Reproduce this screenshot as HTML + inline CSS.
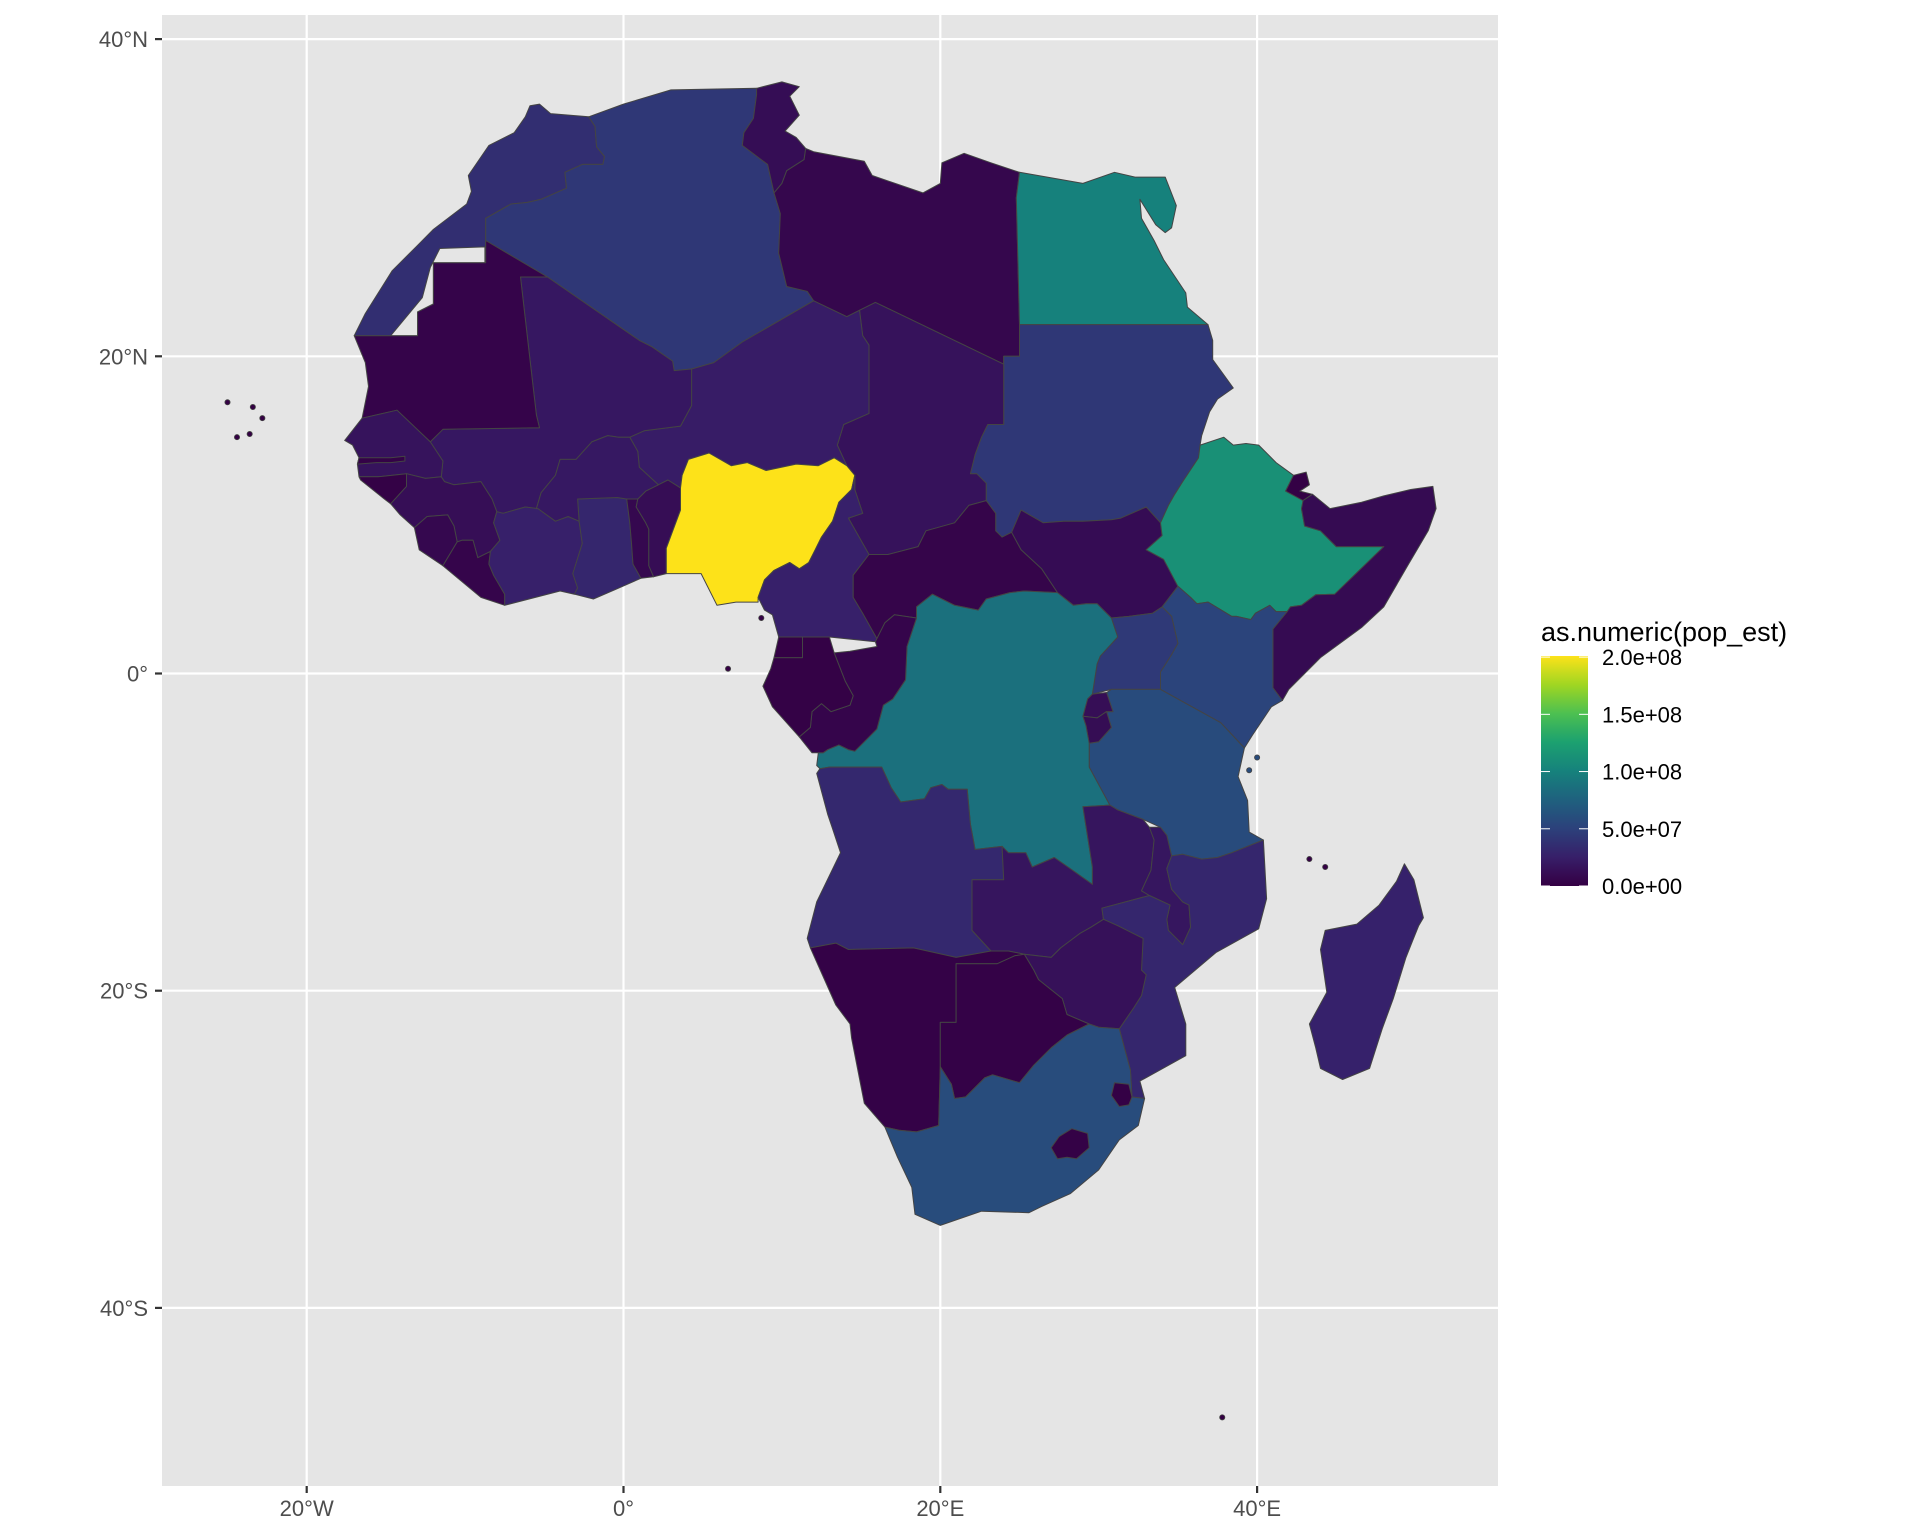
<!DOCTYPE html>
<html><head><meta charset="utf-8"><style>
html,body{margin:0;padding:0;background:#fff;}
svg{display:block;font-family:"Liberation Sans",Arial,sans-serif;}
</style></head><body>
<svg id="chart" width="1920" height="1536" viewBox="0 0 1920 1536" xmlns="http://www.w3.org/2000/svg">
<rect x="0" y="0" width="1920" height="1536" fill="#ffffff"/>
<defs><clipPath id="pclip"><rect x="162" y="15" width="1336" height="1471"/></clipPath>
<linearGradient id="vir" x1="0" y1="1" x2="0" y2="0"></linearGradient></defs>
<rect x="162" y="15" width="1336" height="1471" fill="#e5e5e5"/>
<g id="grid"></g>
<g id="countries" clip-path="url(#pclip)"></g>
<g id="axes"></g>
<g id="legend"></g>
</svg>
<script>
const NS="http://www.w3.org/2000/svg";
const lonTicks=[-20,0,20,40];
const lonLabels=["20°W","0°","20°E","40°E"];
const latTicks=[40,20,0,-20,-40];
const latLabels=["40°N","20°N","0°","20°S","40°S"];
const legendBreaks=[0,5e7,1e8,1.5e8,2e8];
const legendLabels=["0.0e+00","5.0e+07","1.0e+08","1.5e+08","2.0e+08"];
const countryNames=["Algeria","Tunisia","Libya","Egypt","Sudan","Chad","Niger","Mali","Morocco","Mauritania","Senegal","Gambia","Guinea-Bissau","Guinea","Sierra Leone","Liberia","Cote d'Ivoire","Ghana","Togo","Benin","Burkina Faso","Nigeria","Cameroon","Central African Rep.","South Sudan","Ethiopia","Djibouti","Somalia","Kenya","Uganda","Tanzania","Rwanda","Burundi","DR Congo","Congo","Gabon","Eq. Guinea","Angola","Zambia","Malawi","Mozambique","Zimbabwe","Namibia","Botswana","South Africa","Lesotho","eSwatini","Madagascar"];
const popEst=[43.05e6,11.69e6,6.78e6,100.4e6,42.81e6,15.95e6,23.31e6,19.66e6,36.47e6,4.53e6,16.3e6,2.35e6,1.92e6,12.77e6,7.81e6,4.94e6,25.72e6,30.42e6,8.08e6,11.8e6,20.32e6,200.96e6,25.88e6,4.75e6,11.06e6,112.08e6,0.97e6,10.19e6,52.57e6,44.27e6,58.01e6,12.63e6,11.53e6,86.79e6,5.38e6,2.17e6,1.36e6,31.83e6,17.86e6,18.63e6,30.37e6,14.65e6,2.49e6,2.3e6,58.56e6,2.13e6,1.15e6,26.97e6];
const shapes={
"Algeria":[[-8.7,27.3],[-8.7,28.7],[-7.1,29.6],[-6.1,29.7],[-5.2,29.9],[-3.6,30.6],[-3.7,31.6],[-2.6,32.1],[-1.3,32.1],[-1.2,32.6],[-1.7,33.2],[-1.8,34.5],[-2.2,35.1],[0,35.9],[3,36.8],[8.4,36.9],[8.4,36.5],[8.2,35.0],[7.6,34.1],[7.5,33.3],[9.1,32.1],[9.5,30.3],[9.9,29.0],[9.8,26.5],[10.3,24.4],[11.6,24.1],[12.0,23.5],[7.5,20.9],[5.7,19.6],[4.3,19.2],[3.2,19.1],[3.1,19.7],[1.8,20.6],[1.0,21.0],[-4.8,25.0]],
"Tunisia":[[8.4,36.9],[10,37.3],[11.1,37.0],[10.5,36.4],[11.1,35.2],[10.2,34.2],[10.9,33.8],[11.5,33.1],[11.4,32.4],[10.3,31.7],[10.0,30.9],[9.5,30.3],[9.1,32.1],[7.5,33.3],[7.6,34.1],[8.2,35.0],[8.4,36.5]],
"Libya":[[11.5,33.1],[12,32.9],[15.2,32.3],[15.7,31.4],[18.9,30.3],[20.0,30.9],[20.1,32.2],[21.5,32.8],[23.2,32.2],[25.0,31.6],[24.8,30.0],[25.0,22.0],[25.0,20.0],[24.0,20.0],[24.0,19.5],[15.9,23.4],[14.9,22.9],[14.1,22.5],[12.0,23.5],[11.6,24.1],[10.3,24.4],[9.8,26.5],[9.9,29.0],[9.5,30.3],[10.0,30.9],[10.3,31.7],[11.4,32.4]],
"Egypt":[[25.0,31.6],[29,30.9],[31,31.6],[32.3,31.3],[34.2,31.3],[34.9,29.5],[34.6,28.1],[34.2,27.8],[33.6,28.3],[32.6,29.9],[32.7,28.7],[33.5,27.3],[34.1,26.1],[35.5,24.0],[35.6,23.1],[36.9,22.0],[25.0,22.0],[24.8,30.0]],
"Sudan":[[25.0,22.0],[36.9,22.0],[37.2,21.0],[37.2,19.8],[38.5,18.0],[37.5,17.3],[37.0,16.5],[36.5,15.0],[36.4,14.4],[36.3,13.6],[35.3,12.1],[34.8,11.3],[34.4,10.6],[33.9,9.5],[33.0,10.5],[31.4,9.8],[30.8,9.7],[29.0,9.6],[27.8,9.6],[26.5,9.5],[25.1,10.3],[24.5,8.9],[23.9,8.6],[23.5,9.0],[23.5,10.1],[22.9,10.9],[22.9,12.0],[22.3,12.6],[21.9,12.6],[22.2,13.8],[22.6,14.9],[23.0,15.7],[24.0,15.7],[24.0,19.5],[24.0,20.0],[25.0,20.0]],
"Chad":[[24.0,19.5],[15.9,23.4],[14.9,22.9],[15.1,21.3],[15.5,20.7],[15.5,16.4],[13.9,15.7],[13.5,14.4],[14.1,13.1],[14.6,12.5],[14.6,11.6],[15.1,10.1],[14.2,9.8],[15.5,7.5],[16.7,7.5],[18.6,8.0],[19.1,9.0],[20.9,9.5],[21.8,10.6],[22.9,10.9],[22.9,12.0],[22.3,12.6],[21.9,12.6],[22.2,13.8],[22.6,14.9],[23.0,15.7],[24.0,15.7]],
"Niger":[[12.0,23.5],[14.1,22.5],[14.9,22.9],[15.1,21.3],[15.5,20.7],[15.5,16.4],[13.9,15.7],[13.5,14.4],[14.1,13.1],[13.3,13.6],[12.3,13.1],[10.9,13.2],[9.0,12.8],[7.8,13.3],[6.8,13.1],[5.4,13.9],[4.1,13.5],[3.7,12.5],[3.6,11.7],[2.8,12.2],[2.2,11.9],[1.0,13.0],[0.9,14.0],[0.4,14.9],[1.3,15.3],[3.6,15.6],[4.3,16.9],[4.3,19.2],[5.7,19.6],[7.5,20.9]],
"Mali":[[-4.8,25.0],[1.0,21.0],[1.8,20.6],[3.1,19.7],[3.2,19.1],[4.3,19.2],[4.3,16.9],[3.6,15.6],[1.3,15.3],[0.4,14.9],[-0.3,14.9],[-1.0,15.0],[-2.0,14.6],[-3.0,13.5],[-4.0,13.5],[-4.3,12.5],[-5.2,11.4],[-5.5,10.4],[-6.2,10.5],[-7.6,10.1],[-8.0,10.2],[-8.3,11.0],[-9.0,12.1],[-10.7,11.9],[-11.3,12.1],[-11.5,12.4],[-11.4,13.4],[-12.2,14.6],[-11.4,15.4],[-5.3,15.5],[-5.5,16.3],[-6.0,20.6],[-6.5,25.0]],
"Morocco":[[-17.0,21.3],[-16.3,22.7],[-14.6,25.4],[-13.0,27.0],[-12,28.0],[-9.9,29.6],[-9.6,30.4],[-9.8,31.4],[-8.5,33.3],[-6.9,34.1],[-6.2,35.1],[-5.9,35.8],[-5.3,35.9],[-4.6,35.3],[-2.2,35.1],[-1.8,34.5],[-1.7,33.2],[-1.2,32.6],[-1.3,32.1],[-2.6,32.1],[-3.7,31.6],[-3.6,30.6],[-5.2,29.9],[-6.1,29.7],[-7.1,29.6],[-8.7,28.7],[-8.7,25.9],[-13.0,21.3]],
"Mauritania":[[-8.7,27.3],[-4.8,25.0],[-6.5,25.0],[-6.0,20.6],[-5.5,16.3],[-5.3,15.5],[-11.4,15.4],[-12.2,14.6],[-14.3,16.6],[-16.5,16.1],[-16.1,18.1],[-16.3,19.6],[-17.0,21.3],[-13.0,21.3],[-13.0,22.8],[-12,23.3],[-12,25.9],[-8.7,25.9]],
"Senegal":[[-16.5,16.1],[-14.3,16.6],[-12.2,14.6],[-11.4,13.4],[-11.5,12.4],[-12.5,12.3],[-13.7,12.6],[-15.5,12.4],[-16.7,12.4],[-16.8,13.2],[-16.7,13.6],[-17.1,14.4],[-17.6,14.7]],
"Gambia":[[-16.8,13.2],[-15.6,13.3],[-14.7,13.3],[-13.8,13.4],[-13.8,13.7],[-14.7,13.6],[-15.6,13.6],[-16.7,13.6]],
"Guinea-Bissau":[[-16.7,12.4],[-15.5,12.4],[-13.7,12.6],[-13.7,11.8],[-14.7,10.7],[-15.1,11.0],[-16.6,12.2]],
"Guinea":[[-13.7,12.6],[-12.5,12.3],[-11.5,12.4],[-11.3,12.1],[-10.7,11.9],[-9.0,12.1],[-8.3,11.0],[-8.0,10.2],[-8.2,9.5],[-7.8,8.4],[-8.4,7.7],[-9.2,7.3],[-9.5,8.4],[-10.2,8.4],[-10.5,8.3],[-10.7,9.3],[-11.1,10.0],[-12.4,9.9],[-13.2,9.2],[-14.1,10.0],[-14.7,10.7],[-13.7,11.8]],
"Sierra Leone":[[-13.2,9.2],[-12.4,9.9],[-11.1,10.0],[-10.7,9.3],[-10.5,8.3],[-11.4,6.8],[-12.9,7.8]],
"Liberia":[[-11.4,6.8],[-10.5,8.3],[-10.2,8.4],[-9.5,8.4],[-9.2,7.3],[-8.4,7.7],[-8.5,6.9],[-8.2,6.2],[-7.5,5.0],[-7.5,4.3],[-9.0,4.8]],
"Cote d'Ivoire":[[-7.5,4.3],[-4.0,5.2],[-3.1,5.0],[-2.9,5.4],[-3.2,6.3],[-2.6,8.2],[-2.8,9.6],[-3.5,9.9],[-4.3,9.6],[-5.4,10.4],[-6.2,10.5],[-7.6,10.1],[-8.0,10.2],[-8.2,9.5],[-7.8,8.4],[-8.4,7.7],[-8.5,6.9],[-8.2,6.2],[-7.5,5.0]],
"Ghana":[[-3.1,5.0],[-1.9,4.7],[-0.5,5.3],[1.1,6.0],[0.6,6.9],[0.5,8.3],[0.4,9.5],[0.2,11.0],[-0.4,11.1],[-2.9,11.0],[-2.8,9.6],[-2.6,8.2],[-3.2,6.3],[-2.9,5.4]],
"Togo":[[1.1,6.0],[1.9,6.1],[1.6,6.8],[1.6,9.1],[1.4,9.5],[0.8,10.5],[0.9,11.0],[0.2,11.0],[0.4,9.5],[0.5,8.3],[0.6,6.9]],
"Benin":[[1.9,6.1],[2.7,6.3],[2.7,7.9],[3.6,10.3],[3.6,11.7],[2.8,12.2],[2.2,11.9],[1.4,11.5],[0.9,11.0],[0.8,10.5],[1.4,9.5],[1.6,9.1],[1.6,6.8]],
"Burkina Faso":[[-5.5,10.4],[-5.2,11.4],[-4.3,12.5],[-4.0,13.5],[-3.0,13.5],[-2.0,14.6],[-1.0,15.0],[-0.3,14.9],[0.4,14.9],[0.9,14.0],[1.0,13.0],[2.2,11.9],[1.4,11.5],[0.9,11.0],[0.2,11.0],[-0.4,11.1],[-2.9,11.0],[-2.8,9.6],[-3.5,9.9],[-4.3,9.6],[-5.4,10.4]],
"Nigeria":[[2.7,6.3],[3.6,6.3],[4.9,6.3],[5.9,4.3],[7.1,4.5],[8.5,4.5],[8.5,4.8],[8.9,5.9],[9.5,6.5],[10.5,7.0],[11.1,6.6],[11.7,7.0],[12.1,7.8],[12.5,8.6],[13.2,9.6],[13.6,10.8],[14.4,11.6],[14.6,12.5],[14.1,13.1],[13.3,13.6],[12.3,13.1],[10.9,13.2],[9.0,12.8],[7.8,13.3],[6.8,13.1],[5.4,13.9],[4.1,13.5],[3.7,12.5],[3.6,11.7],[3.6,10.3],[2.7,7.9]],
"Cameroon":[[8.5,4.8],[8.9,4.0],[9.4,3.7],[9.8,2.3],[11.3,2.3],[13.0,2.3],[15.9,2.0],[16.0,2.2],[15.1,3.8],[14.5,4.8],[14.5,6.2],[15.5,7.5],[14.2,9.8],[15.1,10.1],[14.6,11.6],[14.6,12.5],[14.4,11.6],[13.6,10.8],[13.2,9.6],[12.5,8.6],[12.1,7.8],[11.7,7.0],[11.1,6.6],[10.5,7.0],[9.5,6.5],[8.9,5.9]],
"Central African Rep.":[[15.5,7.5],[16.7,7.5],[18.6,8.0],[19.1,9.0],[20.9,9.5],[21.8,10.6],[22.9,10.9],[23.5,10.1],[23.5,9.0],[23.9,8.6],[24.5,8.9],[25.1,7.8],[26.4,6.6],[27.4,5.1],[25.3,5.2],[24.4,5.1],[22.9,4.7],[22.4,4.0],[20.9,4.3],[19.5,5.0],[18.5,4.2],[18.5,3.5],[17.1,3.7],[16.5,3.2],[16.0,2.2],[15.1,3.8],[14.5,4.8],[14.5,6.2]],
"South Sudan":[[24.5,8.9],[25.1,10.3],[26.5,9.5],[27.8,9.6],[29.0,9.6],[30.8,9.7],[31.4,9.8],[33.0,10.5],[33.9,9.5],[34.0,8.7],[33.0,7.8],[34.1,7.2],[35.0,5.5],[34.0,4.2],[33.4,3.8],[31.9,3.6],[30.8,3.5],[29.9,4.4],[29.2,4.4],[28.4,4.3],[27.4,5.1],[26.4,6.6],[25.1,7.8]],
"Ethiopia":[[33.9,9.5],[34.4,10.6],[34.8,11.3],[35.3,12.1],[36.3,13.6],[36.4,14.4],[37.9,14.9],[38.5,14.4],[39.3,14.5],[40.1,14.4],[41.2,13.3],[42.3,12.5],[41.8,11.5],[43.0,10.9],[42.8,10.4],[43.0,9.3],[44.0,9.0],[45.0,8.0],[48.0,8.0],[44.9,5.0],[43.7,4.96],[42.8,4.3],[42.1,4.2],[41.9,3.9],[41.2,3.9],[40.8,4.3],[39.9,3.8],[39.6,3.4],[38.7,3.6],[38.4,3.6],[36.9,4.5],[36.2,4.4],[35.8,4.8],[35.0,5.5],[34.1,7.2],[33.0,7.8],[34.0,8.7]],
"Djibouti":[[42.3,12.5],[43.1,12.7],[43.3,11.9],[42.7,11.5],[43.5,11.3],[42.9,10.9],[41.8,11.5]],
"Somalia":[[43.5,11.3],[44.6,10.4],[46.6,10.8],[48.0,11.2],[49.7,11.6],[51.1,11.8],[51.3,10.4],[50.8,9.0],[49.5,6.8],[48.0,4.2],[46.6,2.9],[44.0,1.0],[42.0,-1.0],[41.6,-1.7],[41.0,-0.9],[41.0,2.8],[41.9,3.9],[42.1,4.2],[42.8,4.3],[43.7,4.96],[44.9,5.0],[48.0,8.0],[45.0,8.0],[44.0,9.0],[43.0,9.3],[42.8,10.4],[42.9,10.9]],
"Kenya":[[41.6,-1.7],[40.9,-2.1],[39.7,-3.9],[39.2,-4.7],[37.7,-3.1],[33.9,-1.0],[33.9,0.1],[34.1,0.4],[34.6,1.2],[35.0,1.9],[34.6,3.6],[34.0,4.2],[35.0,5.5],[35.8,4.8],[36.2,4.4],[36.9,4.5],[38.4,3.6],[38.7,3.6],[39.6,3.4],[39.9,3.8],[40.8,4.3],[41.2,3.9],[41.9,3.9],[41.0,2.8],[41.0,-0.9]],
"Uganda":[[33.9,-1.0],[31.8,-1.0],[30.8,-1.0],[29.6,-1.3],[29.9,0.6],[30.1,1.1],[31.2,2.3],[30.8,3.5],[31.9,3.6],[33.4,3.8],[34.0,4.2],[34.6,3.6],[35.0,1.9],[34.6,1.2],[34.1,0.4],[33.9,0.1]],
"Tanzania":[[30.8,-1.0],[31.8,-1.0],[33.9,-1.0],[37.7,-3.1],[39.2,-4.7],[38.8,-6.5],[39.4,-8.0],[39.5,-10.0],[40.4,-10.5],[38.4,-11.3],[37.5,-11.6],[36.5,-11.7],[35.3,-11.4],[34.6,-11.5],[34.3,-10.2],[33.9,-9.7],[32.8,-9.2],[31.2,-8.6],[30.7,-8.3],[29.4,-5.9],[29.4,-4.4],[30.0,-4.3],[30.8,-3.4],[30.5,-2.4],[30.9,-2.4],[30.5,-1.2]],
"Rwanda":[[29.6,-1.3],[30.5,-1.2],[30.9,-2.4],[30.5,-2.4],[29.9,-2.8],[29.0,-2.7],[29.3,-1.6]],
"Burundi":[[29.0,-2.7],[29.9,-2.8],[30.5,-2.4],[30.8,-3.4],[30.0,-4.3],[29.4,-4.4],[29.2,-3.3]],
"DR Congo":[[12.2,-5.8],[12.4,-6.0],[13.0,-5.9],[16.3,-5.9],[16.9,-7.2],[17.5,-8.1],[19.0,-7.9],[19.4,-7.2],[20.1,-7.0],[20.5,-7.3],[21.7,-7.3],[21.9,-9.5],[22.2,-11.1],[23.9,-10.9],[24.3,-11.3],[25.4,-11.3],[25.8,-12.2],[27.2,-11.6],[28.2,-12.3],[29.6,-13.3],[29.6,-12.2],[29.0,-8.4],[30.7,-8.3],[29.4,-5.9],[29.4,-4.4],[29.2,-3.3],[29.0,-2.7],[29.3,-1.6],[29.6,-1.3],[29.9,0.6],[30.1,1.1],[31.2,2.3],[30.8,3.5],[29.9,4.4],[29.2,4.4],[28.4,4.3],[27.4,5.1],[25.3,5.2],[24.4,5.1],[22.9,4.7],[22.4,4.0],[20.9,4.3],[19.5,5.0],[18.5,4.2],[18.5,3.5],[17.9,1.7],[17.8,-0.4],[17.0,-1.6],[16.4,-2.0],[16.0,-3.5],[15.2,-4.3],[14.6,-4.9],[14.2,-4.8],[13.6,-4.5],[12.9,-4.8],[12.6,-5.0],[12.3,-5.0]],
"Congo":[[11.1,-4.0],[11.9,-5.0],[12.6,-5.0],[12.9,-4.8],[13.6,-4.5],[14.2,-4.8],[14.6,-4.9],[15.2,-4.3],[16.0,-3.5],[16.4,-2.0],[17.0,-1.6],[17.8,-0.4],[17.9,1.7],[18.5,3.5],[17.1,3.7],[16.5,3.2],[16.0,2.2],[15.9,2.0],[16.0,1.7],[14.3,1.4],[13.3,1.3],[14.0,-0.5],[14.5,-1.4],[14.3,-2.0],[13.1,-2.4],[12.5,-1.9],[11.9,-2.4],[11.8,-3.4]],
"Gabon":[[9.3,0.3],[9.5,1.0],[11.3,1.0],[11.3,2.3],[13.0,2.3],[13.3,1.3],[14.0,-0.5],[14.5,-1.4],[14.3,-2.0],[13.1,-2.4],[12.5,-1.9],[11.9,-2.4],[11.8,-3.4],[11.1,-4.0],[9.4,-2.1],[8.8,-0.8]],
"Eq. Guinea":[[9.5,1.0],[11.3,1.0],[11.3,2.3],[9.8,2.3]],
"Angola":[[11.8,-17.3],[11.6,-16.7],[12.2,-14.4],[13.7,-11.3],[13.2,-9.8],[12.9,-8.9],[12.2,-6.3],[12.4,-6.0],[13.0,-5.9],[16.3,-5.9],[16.9,-7.2],[17.5,-8.1],[19.0,-7.9],[19.4,-7.2],[20.1,-7.0],[20.5,-7.3],[21.7,-7.3],[21.9,-9.5],[22.2,-11.1],[23.9,-10.9],[24.0,-13.0],[22.0,-13.0],[22.0,-16.2],[23.2,-17.5],[21.0,-17.9],[18.3,-17.3],[14.2,-17.4],[13.4,-17.0]],
"Zambia":[[22.0,-13.0],[24.0,-13.0],[23.9,-10.9],[24.3,-11.3],[25.4,-11.3],[25.8,-12.2],[27.2,-11.6],[28.2,-12.3],[29.6,-13.3],[29.6,-12.2],[29.0,-8.4],[30.7,-8.3],[31.2,-8.6],[32.8,-9.2],[33.2,-9.7],[33.5,-10.5],[33.3,-12.4],[32.7,-13.7],[33.2,-14.0],[30.2,-14.8],[30.3,-15.5],[29.5,-16.0],[28.8,-16.4],[27.6,-17.3],[27.0,-17.9],[25.3,-17.7],[24.3,-17.5],[23.2,-17.5],[22.0,-16.2]],
"Malawi":[[33.2,-9.7],[33.9,-9.7],[34.3,-10.2],[34.6,-11.5],[34.3,-12.3],[34.6,-13.6],[35.3,-14.4],[35.7,-14.6],[35.8,-16.0],[35.3,-17.1],[34.4,-16.2],[34.3,-15.5],[34.5,-14.6],[33.2,-14.0],[32.7,-13.7],[33.3,-12.4],[33.5,-10.5]],
"Mozambique":[[40.4,-10.5],[40.6,-14.2],[40.1,-16.1],[37.4,-17.6],[34.8,-19.8],[35.5,-22.1],[35.5,-24.1],[32.6,-25.7],[32.9,-26.8],[32.1,-26.7],[32.0,-25.0],[31.3,-22.4],[32.2,-21.1],[32.7,-20.3],[33.0,-19.0],[32.7,-18.7],[32.8,-16.7],[31.2,-15.9],[30.3,-15.5],[30.2,-14.8],[33.2,-14.0],[34.5,-14.6],[34.3,-15.5],[34.4,-16.2],[35.3,-17.1],[35.8,-16.0],[35.7,-14.6],[35.3,-14.4],[34.6,-13.6],[34.3,-12.3],[34.6,-11.5],[35.3,-11.4],[36.5,-11.7],[37.5,-11.6],[38.4,-11.3]],
"Zimbabwe":[[25.3,-17.7],[27.0,-17.9],[27.6,-17.3],[28.8,-16.4],[29.5,-16.0],[30.3,-15.5],[31.2,-15.9],[32.8,-16.7],[32.7,-18.7],[33.0,-19.0],[32.7,-20.3],[32.2,-21.1],[31.3,-22.4],[30.0,-22.3],[29.4,-22.1],[28.0,-21.5],[27.7,-20.5],[26.2,-19.3],[25.9,-18.7]],
"Namibia":[[11.8,-17.3],[13.4,-17.0],[14.2,-17.4],[18.3,-17.3],[21.0,-17.9],[23.2,-17.5],[24.3,-17.5],[25.3,-17.7],[24.7,-17.8],[23.6,-18.3],[21.0,-18.3],[21.0,-22.0],[20.0,-22.0],[20.0,-24.8],[19.9,-28.5],[18.5,-28.9],[17.4,-28.8],[16.5,-28.6],[15.2,-27.1],[14.4,-23],[14.3,-22.1],[13.4,-20.9]],
"Botswana":[[20.0,-22.0],[21.0,-22.0],[21.0,-18.3],[23.6,-18.3],[24.7,-17.8],[25.3,-17.7],[25.9,-18.7],[26.2,-19.3],[27.7,-20.5],[28.0,-21.5],[29.4,-22.1],[28.0,-22.8],[27.0,-23.6],[25.9,-24.7],[25.0,-25.8],[23.3,-25.3],[22.8,-25.5],[21.6,-26.7],[20.9,-26.8],[20.7,-25.9],[20.0,-24.8]],
"South Africa":[[16.5,-28.6],[17.4,-28.8],[18.5,-28.9],[19.9,-28.5],[20.0,-24.8],[20.7,-25.9],[20.9,-26.8],[21.6,-26.7],[22.8,-25.5],[23.3,-25.3],[25.0,-25.8],[25.9,-24.7],[27.0,-23.6],[28.0,-22.8],[29.4,-22.1],[30.0,-22.3],[31.3,-22.4],[32.0,-25.0],[32.1,-26.7],[32.9,-26.8],[32.5,-28.5],[31.3,-29.4],[30,-31.3],[28.2,-32.8],[26.4,-33.6],[25.6,-34],[22.6,-33.9],[20,-34.8],[18.4,-34.1],[18.2,-32.4],[17.3,-30.5]],
"Lesotho":[[27.0,-29.9],[27.5,-29.2],[28.3,-28.7],[29.3,-29.0],[29.4,-29.9],[28.6,-30.6],[28.0,-30.5],[27.4,-30.6]],
"eSwatini":[[31.0,-25.8],[31.9,-25.9],[32.1,-26.7],[31.9,-27.2],[31.3,-27.3],[30.8,-26.6]],
"Madagascar":[[49.3,-12.0],[49.9,-13.0],[50.5,-15.4],[50.2,-15.9],[49.8,-16.9],[49.4,-17.9],[48.6,-20.5],[47.9,-22.4],[47.1,-24.9],[45.4,-25.6],[44.0,-24.9],[43.7,-23.6],[43.3,-22.1],[44.4,-20.1],[44.0,-17.4],[44.3,-16.2],[46.3,-15.8],[47.7,-14.6],[48.8,-13.1]]
};
const wsHole=[[-11.6,26.8],[-8.75,26.9],[-8.75,25.9],[-12,25.9],[-12,23.3],[-13.0,22.8],[-13.0,21.3],[-14.7,21.3],[-12.7,23.7],[-12.2,25.6]];
const islandLon=[-24.4,-23.6,-23.4,-22.8,-25.0,6.6,8.7,43.3,44.3,37.8,40.0,39.5];
const islandLat=[14.9,15.1,16.8,16.1,17.1,0.3,3.5,-11.7,-12.2,-46.9,-5.3,-6.1];
const islandPop=[0.55e6,0.55e6,0.55e6,0.55e6,0.55e6,0.2e6,1.36e6,0.85e6,0.85e6,0,58.01e6,58.01e6];

const X0=623.5, KX=15.84, Y0=673.5, KY=15.86;
function X(lon){return X0+KX*lon;}
function Y(lat){return Y0-KY*lat;}
const popMax=Math.max(...popEst);
const vStops=["#440154","#472c7a","#3b528b","#2c728e","#21918c","#28ae80","#5ec962","#addc30","#fde725"];
function hex(c){return [1,3,5].map(i=>parseInt(c.substr(i,2),16));}
function gam(x){return Math.round(255*Math.pow(x/255,1.2));}
function vAt(t){
  t=Math.max(0,Math.min(1,t))*(vStops.length-1);
  let i=Math.min(Math.floor(t),vStops.length-2), f=t-i;
  const a=hex(vStops[i]), b=hex(vStops[i+1]);
  return "rgb("+a.map((x,k)=>gam(x+(b[k]-x)*f)).join(",")+")";
}
function viridis(v){return vAt(v/popMax);}
function mk(tag,attrs,parent){const e=document.createElementNS(NS,tag);for(const k in attrs)e.setAttribute(k,attrs[k]);parent.appendChild(e);return e;}
function pathOf(pts){return "M"+pts.map(p=>X(p[0]).toFixed(1)+","+Y(p[1]).toFixed(1)).join("L")+"Z";}

const grad=document.getElementById("vir");
for(let k=0;k<=16;k++){mk("stop",{offset:k/16,"stop-color":vAt(k/16)},grad);}

const grid=document.getElementById("grid");
lonTicks.forEach(l=>{
  const ln=mk("line",{x1:X(l),x2:X(l),y1:15,y2:1486,stroke:"#ffffff","stroke-width":2.2},grid);
  
  
});
latTicks.forEach(l=>{
  const ln=mk("line",{x1:162,x2:1498,y1:Y(l),y2:Y(l),stroke:"#ffffff","stroke-width":2.2},grid);
  
  
});

const cg=document.getElementById("countries");
const order=["Morocco","__hole"].concat(countryNames.filter(n=>n!=="Morocco"));
order.forEach(n=>{
  if(n==="__hole"){
    const h=mk("path",{d:pathOf(wsHole),fill:"#e5e5e5",stroke:"#444444","stroke-width":1},cg);
    
    
    return;
  }
  const i=countryNames.indexOf(n);
  const p=mk("path",{d:pathOf(shapes[n]),fill:viridis(popEst[i]),stroke:"#444444","stroke-width":1,"stroke-linejoin":"round"},cg);
  
  
});
islandLon.forEach((lo,i)=>{
  const c=mk("circle",{cx:X(lo),cy:Y(islandLat[i]),r:2.6,fill:viridis(islandPop[i]),stroke:"#444444","stroke-width":0.8},cg);
  
  
});

const ax=document.getElementById("axes");
lonTicks.forEach((l,i)=>{
  const t=mk("line",{x1:X(l),x2:X(l),y1:1486,y2:1493,stroke:"#333333","stroke-width":2.2},ax);
  
  
  const tx=mk("text",{x:X(l),y:1516,"text-anchor":"middle","font-size":"22","fill":"#4d4d4d"},ax);
  tx.textContent=lonLabels[i];
  
  
});
latTicks.forEach((l,i)=>{
  const t=mk("line",{x1:155,x2:162,y1:Y(l),y2:Y(l),stroke:"#333333","stroke-width":2.2},ax);
  
  
  const tx=mk("text",{x:148,y:Y(l)+8,"text-anchor":"end","font-size":"22","fill":"#4d4d4d"},ax);
  tx.textContent=latLabels[i];
  
  
});

const lg=document.getElementById("legend");
const barX=1541, barW=47, barBot=886, barH=230;
function LY(v){return barBot-barH*v/popMax;}
const title=mk("text",{x:1541,y:641,"font-size":"27","fill":"#000"},lg);
title.textContent="as.numeric(pop_est)";


const bar=mk("rect",{x:barX,y:barBot-barH,width:barW,height:barH,fill:"url(#vir)"},lg);


legendBreaks.forEach((b,i)=>{
  const y=LY(b);
  const t1=mk("line",{x1:barX,x2:barX+9,y1:y,y2:y,stroke:"#ffffff","stroke-width":1},lg);
  
  
  const t2=mk("line",{x1:barX+barW-9,x2:barX+barW,y1:y,y2:y,stroke:"#ffffff","stroke-width":1},lg);
  
  
  const tx=mk("text",{x:1602,y:y+8,"font-size":"22","fill":"#000"},lg);
  tx.textContent=legendLabels[i];
  
  
});
</script>
</body></html>
